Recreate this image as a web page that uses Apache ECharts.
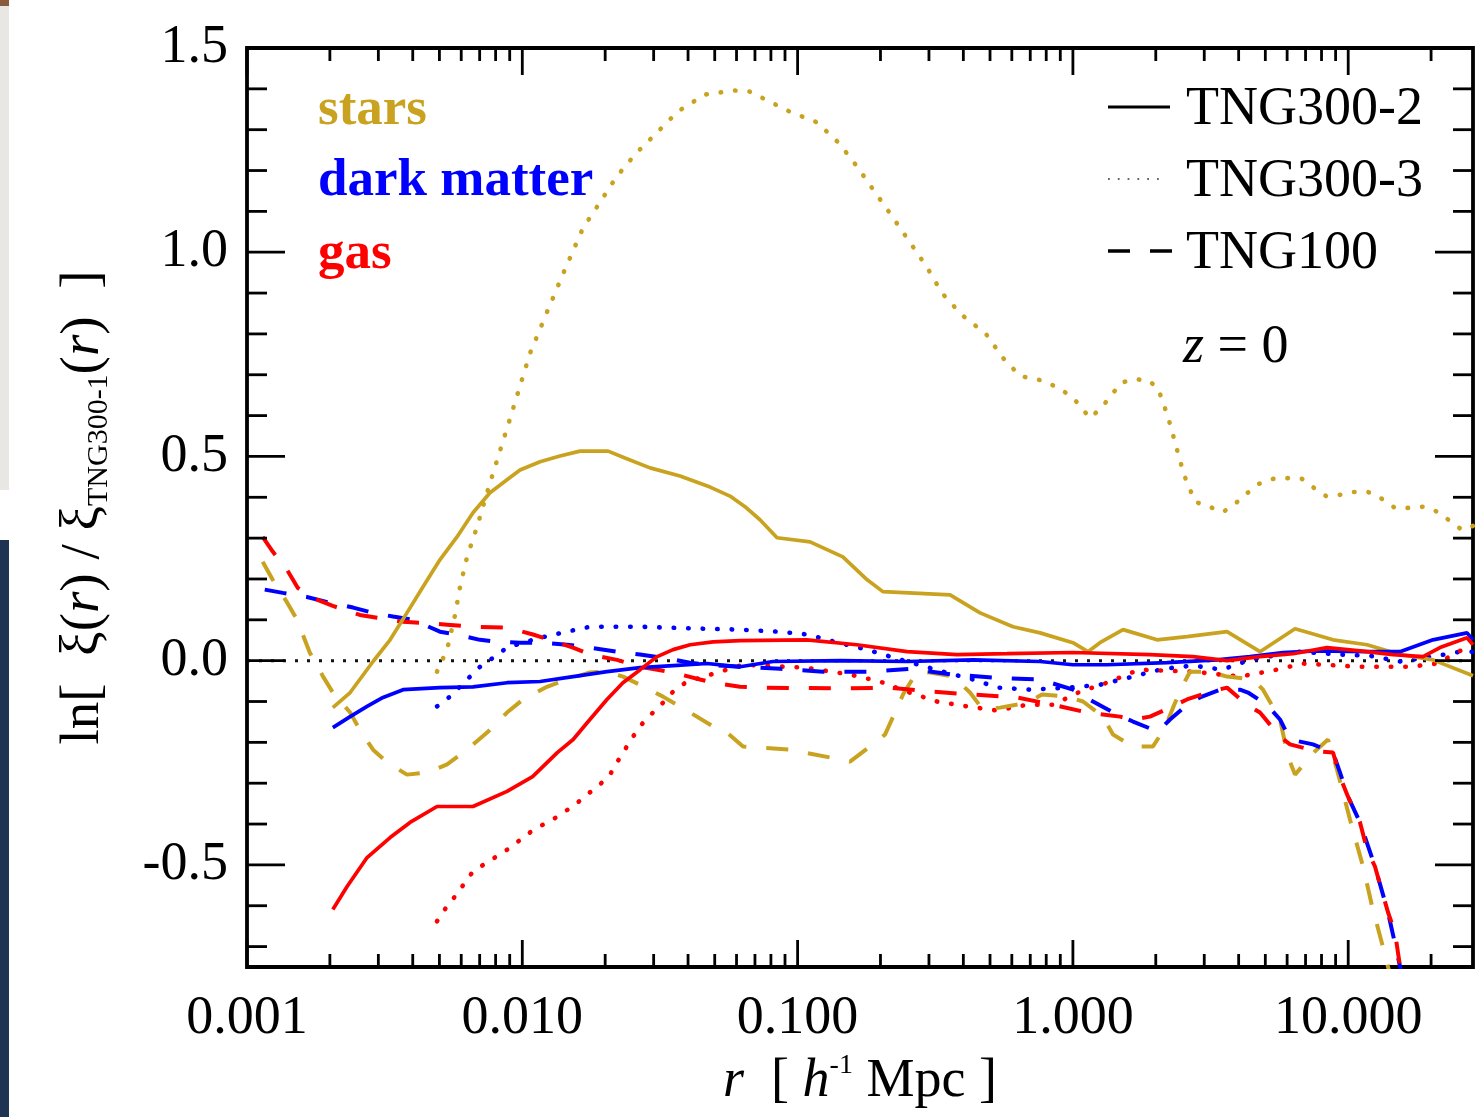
<!DOCTYPE html>
<html>
<head>
<meta charset="utf-8">
<script src="https://cdn.jsdelivr.net/npm/echarts/dist/echarts.min.js"></script>
<style>
html,body{margin:0;padding:0;background:#fff;}
#chart{width:1476px;height:1117px;}
</style>
</head>
<body>
<div id="chart"></div>
<script>
// ---- axis ranges and ticks ----
const X_MIN = 0.001, X_MAX = 28.4, Y_MIN = -0.75, Y_MAX = 1.5;
const xMajorTicks = [0.001, 0.01, 0.1, 1, 10];
const xMinorTicks = [0.002,0.003,0.004,0.005,0.006,0.007,0.008,0.009,
                     0.02,0.03,0.04,0.05,0.06,0.07,0.08,0.09,
                     0.2,0.3,0.4,0.5,0.6,0.7,0.8,0.9,
                     2,3,4,5,6,7,8,9,20];
const yMajorTicks = [-0.5, 0, 0.5, 1.0, 1.5];
const yMinorTicks = [-0.7,-0.6,-0.4,-0.3,-0.2,-0.1,0.1,0.2,0.3,0.4,0.6,0.7,0.8,0.9,1.1,1.2,1.3,1.4];
const zeroLine = [[X_MIN, 0], [X_MAX, 0]];

// ---- data: [r (h^-1 Mpc), ln(xi/xi_TNG300-1)] ----
// TNG300-2 (solid)
const starsTNG300_2 = [[0.00205,-0.115],[0.00237,-0.078],[0.00287,-0.002],[0.00331,0.051],[0.00381,0.117],[0.00436,0.181],[0.00502,0.247],[0.00579,0.303],[0.00662,0.362],[0.00763,0.411],[0.0088,0.443],[0.00981,0.467],[0.0116,0.487],[0.0137,0.501],[0.0162,0.513],[0.0205,0.513],[0.0236,0.496],[0.0291,0.472],[0.0374,0.452],[0.0481,0.425],[0.0568,0.403],[0.0644,0.377],[0.073,0.345],[0.0842,0.301],[0.111,0.291],[0.146,0.254],[0.179,0.198],[0.204,0.169],[0.358,0.161],[0.46,0.117],[0.606,0.083],[0.76,0.068],[1.0,0.044],[1.134,0.022],[1.254,0.044],[1.521,0.076],[2.021,0.051],[2.597,0.059],[3.629,0.071],[4.782,0.022],[6.41,0.078],[8.808,0.051],[11.7,0.039],[15.42,0.015],[20.32,0.002],[28.4,-0.037]];
const darkTNG300_2 = [[0.00205,-0.164],[0.00237,-0.137],[0.00273,-0.112],[0.00312,-0.09],[0.00369,-0.071],[0.00502,-0.066],[0.00662,-0.064],[0.0088,-0.054],[0.0116,-0.051],[0.0153,-0.039],[0.0203,-0.027],[0.0268,-0.017],[0.0353,-0.012],[0.0469,-0.007],[0.0618,-0.015],[0.0814,-0.002],[0.143,0.0],[0.25,-0.002],[0.434,0.002],[0.76,-0.002],[1.0,-0.01],[1.33,-0.01],[2.197,-0.005],[3.337,0.002],[4.398,0.01],[5.799,0.02],[7.703,0.024],[11.7,0.022],[15.42,0.022],[20.32,0.051],[27.02,0.068],[28.4,0.051]];
const gasTNG300_2 = [[0.00205,-0.609],[0.00231,-0.553],[0.00273,-0.482],[0.00331,-0.433],[0.00391,-0.396],[0.0049,-0.357],[0.00662,-0.357],[0.0088,-0.32],[0.0109,-0.284],[0.0134,-0.225],[0.0153,-0.193],[0.0176,-0.144],[0.0203,-0.095],[0.0232,-0.054],[0.0268,-0.022],[0.0309,0.01],[0.0353,0.027],[0.0407,0.039],[0.0493,0.046],[0.0618,0.049],[0.108,0.051],[0.164,0.039],[0.25,0.022],[0.379,0.015],[0.576,0.017],[1.0,0.02],[1.905,0.015],[2.731,0.01],[3.629,0.0],[4.782,0.01],[6.302,0.017],[8.375,0.032],[11.04,0.024],[14.54,0.015],[18.7,0.01],[21.55,0.032],[27.02,0.056],[28.4,0.039]];
// TNG300-3 (dotted)
const starsTNG300_3 = [[0.0049,-0.027],[0.00533,0.027],[0.0057,0.112],[0.00594,0.181],[0.0063,0.254],[0.00685,0.328],[0.00763,0.435],[0.009,0.59],[0.01067,0.753],[0.01229,0.853],[0.01429,0.958],[0.01661,1.059],[0.01915,1.122],[0.02189,1.183],[0.02588,1.242],[0.03085,1.293],[0.03679,1.345],[0.04609,1.386],[0.05875,1.396],[0.06659,1.394],[0.07487,1.377],[0.09307,1.345],[0.1176,1.318],[0.1414,1.267],[0.1643,1.21],[0.1911,1.147],[0.2203,1.088],[0.256,1.024],[0.2951,0.963],[0.3346,0.9],[0.3955,0.846],[0.4834,0.8],[0.5575,0.741],[0.6427,0.697],[0.7597,0.687],[0.8977,0.667],[1.018,0.638],[1.154,0.594],[1.276,0.621],[1.495,0.68],[1.653,0.689],[1.874,0.687],[2.038,0.667],[2.215,0.597],[2.368,0.526],[2.533,0.455],[2.777,0.389],[3.122,0.377],[3.51,0.364],[3.88,0.384],[4.255,0.408],[4.742,0.433],[5.333,0.445],[6.044,0.447],[6.795,0.445],[7.514,0.423],[8.308,0.403],[9.338,0.406],[10.49,0.413],[11.8,0.413],[13.27,0.396],[14.79,0.374],[16.63,0.374],[18.86,0.377],[21.19,0.364],[23.43,0.342],[25.91,0.32],[28.4,0.33]];
const darkTNG300_3 = [[0.0049,-0.112],[0.00546,-0.088],[0.00594,-0.064],[0.00646,-0.039],[0.00702,-0.015],[0.00783,0.007],[0.0088,0.032],[0.01006,0.044],[0.0116,0.056],[0.01453,0.071],[0.01762,0.083],[0.02676,0.083],[0.04688,0.078],[0.06177,0.076],[0.08488,0.071],[0.1091,0.064],[0.1402,0.044],[0.1787,0.027],[0.2297,0.005],[0.3375,-0.027],[0.4336,-0.046],[0.5345,-0.066],[0.6987,-0.071],[0.9678,-0.066],[1.254,-0.059],[1.653,-0.039],[2.125,-0.02],[2.731,-0.012],[3.48,-0.022],[4.398,0.002],[6.516,0.022],[9.338,0.015],[12.0,0.012],[15.42,-0.002],[20.32,0.01],[25.48,0.022],[28.4,0.022]];
const gasTNG300_3 = [[0.0049,-0.638],[0.00533,-0.601],[0.0057,-0.577],[0.00662,-0.516],[0.00745,-0.494],[0.0083,-0.474],[0.00918,-0.455],[0.01006,-0.433],[0.01131,-0.408],[0.0126,-0.394],[0.01405,-0.372],[0.01528,-0.357],[0.01718,-0.328],[0.01915,-0.303],[0.02083,-0.279],[0.02208,-0.249],[0.02524,-0.186],[0.02745,-0.152],[0.02984,-0.127],[0.03244,-0.103],[0.03527,-0.076],[0.03966,-0.051],[0.04421,-0.042],[0.06334,-0.01],[0.1064,-0.017],[0.155,-0.034],[0.1992,-0.051],[0.2497,-0.076],[0.3209,-0.1],[0.4124,-0.112],[0.5302,-0.122],[0.6813,-0.108],[0.8467,-0.108],[1.061,-0.076],[1.33,-0.054],[1.739,-0.022],[2.731,-0.027],[4.046,-0.039],[5.333,-0.024],[6.853,-0.007],[11.04,-0.015],[16.77,-0.015],[21.01,-0.007],[25.48,0.024],[28.4,0.032]];
// TNG100 (dashed)
const starsTNG100 = [[0.00114,0.242],[0.00124,0.198],[0.0014,0.142],[0.00152,0.1],[0.00169,0.02],[0.00189,-0.039],[0.00205,-0.078],[0.00237,-0.127],[0.00257,-0.169],[0.00287,-0.218],[0.00323,-0.249],[0.00381,-0.279],[0.00451,-0.274],[0.00533,-0.254],[0.0063,-0.218],[0.00745,-0.176],[0.0088,-0.127],[0.01006,-0.095],[0.01229,-0.064],[0.01453,-0.046],[0.01762,-0.029],[0.02031,-0.027],[0.02322,-0.039],[0.02676,-0.059],[0.03244,-0.088],[0.04067,-0.127],[0.04928,-0.161],[0.0554,-0.176],[0.06334,-0.21],[0.09384,-0.218],[0.1311,-0.237],[0.155,-0.247],[0.1832,-0.21],[0.2077,-0.181],[0.2258,-0.127],[0.2415,-0.083],[0.2715,-0.027],[0.3026,-0.029],[0.3668,-0.039],[0.4229,-0.078],[0.4715,-0.12],[0.5436,-0.115],[0.6813,-0.103],[0.7722,-0.083],[0.952,-0.088],[1.088,-0.1],[1.286,-0.137],[1.398,-0.181],[1.653,-0.21],[1.954,-0.21],[2.161,-0.164],[2.31,-0.115],[2.491,-0.064],[2.663,-0.027],[3.148,-0.027],[3.629,-0.039],[4.51,-0.046],[4.904,-0.071],[5.653,-0.144],[6.044,-0.235],[6.41,-0.279],[7.574,-0.222],[8.446,-0.193],[9.107,-0.267],[10.15,-0.389],[11.32,-0.504],[12.21,-0.601],[13.38,-0.702],[14.18,-0.768]];
const darkTNG100 = [[0.00116,0.174],[0.00135,0.166],[0.00165,0.156],[0.002,0.142],[0.00243,0.13],[0.00287,0.117],[0.00339,0.108],[0.00401,0.1],[0.00502,0.071],[0.00579,0.064],[0.00702,0.051],[0.00809,0.046],[0.00981,0.044],[0.0116,0.044],[0.01453,0.039],[0.01762,0.032],[0.02208,0.022],[0.02676,0.015],[0.03244,0.007],[0.04067,-0.005],[0.04688,-0.01],[0.06177,-0.015],[0.08632,-0.02],[0.1237,-0.027],[0.1787,-0.027],[0.256,-0.02],[0.3668,-0.034],[0.5302,-0.042],[0.7597,-0.046],[1.001,-0.071],[1.183,-0.1],[1.446,-0.132],[1.653,-0.149],[2.038,-0.174],[2.253,-0.144],[2.597,-0.108],[2.895,-0.09],[3.422,-0.071],[4.046,-0.071],[4.325,-0.078],[5.07,-0.108],[5.653,-0.144],[6.147,-0.193],[7.451,-0.205],[8.808,-0.225],[9.338,-0.274],[9.984,-0.333],[11.04,-0.396],[12.51,-0.504],[13.95,-0.616],[15.42,-0.748],[16.08,-0.792]];
const gasTNG100 = [[0.00114,0.303],[0.00124,0.267],[0.0014,0.222],[0.00153,0.178],[0.00169,0.156],[0.00205,0.134],[0.00257,0.112],[0.00297,0.105],[0.00369,0.095],[0.00425,0.093],[0.00533,0.088],[0.00662,0.083],[0.0088,0.081],[0.01094,0.064],[0.0126,0.051],[0.01528,0.032],[0.01762,0.015],[0.02208,0.002],[0.02676,-0.015],[0.03527,-0.029],[0.04421,-0.046],[0.04928,-0.054],[0.06177,-0.064],[0.07302,-0.066],[0.1426,-0.068],[0.2166,-0.066],[0.3102,-0.076],[0.4336,-0.083],[0.6265,-0.09],[0.8753,-0.11],[1.125,-0.127],[1.483,-0.137],[1.653,-0.144],[1.905,-0.137],[2.253,-0.115],[2.597,-0.095],[3.148,-0.076],[3.629,-0.066],[4.29,-0.108],[4.782,-0.127],[5.653,-0.186],[6.147,-0.205],[7.703,-0.222],[8.808,-0.225],[9.338,-0.284],[9.984,-0.333],[11.04,-0.396],[11.7,-0.462],[12.51,-0.504],[13.27,-0.565],[13.95,-0.616],[14.79,-0.665],[15.42,-0.748],[16.08,-0.792]];

// ---- styles ----
const GOLD = '#C9A21F', BLUE = '#0000FF', RED = '#FF0000';
const FONT = '"Liberation Serif", "Times New Roman", serif';
const STYLES = {
  solid:  {type: 'solid', width: 3.7},
  dotted: {type: [0.5, 14], width: 4.6, cap: 'round'},
  dashed: {type: [22, 20], width: 4}
};

function lineSeries(name, data, color, kind) {
  return {
    name: name, type: 'line', data: data, showSymbol: false, symbol: 'none',
    clip: true, silent: true, animation: false, z: 3,
    lineStyle: Object.assign({color: color}, STYLES[kind])
  };
}

function xTickSeries(values, len) {
  return {
    type: 'custom', silent: true, animation: false, clip: false, z: 6,
    data: values.map(v => [v, Y_MIN]),
    encode: {x: 0, y: 1},
    renderItem: function (params, api) {
      const v = api.value(0);
      const b = api.coord([v, Y_MIN]);
      const t = api.coord([v, Y_MAX]);
      const st = {stroke: '#000', lineWidth: 2.8};
      return {type: 'group', children: [
        {type: 'line', shape: {x1: b[0], y1: b[1], x2: b[0], y2: b[1] - len}, style: st},
        {type: 'line', shape: {x1: t[0], y1: t[1], x2: t[0], y2: t[1] + len}, style: st}
      ]};
    }
  };
}
function yTickSeries(values, len) {
  return {
    type: 'custom', silent: true, animation: false, clip: false, z: 6,
    data: values.map(v => [X_MIN, v]),
    encode: {x: 0, y: 1},
    renderItem: function (params, api) {
      const v = api.value(1);
      const l = api.coord([X_MIN, v]);
      const r = api.coord([X_MAX, v]);
      const st = {stroke: '#000', lineWidth: 2.8};
      return {type: 'group', children: [
        {type: 'line', shape: {x1: l[0], y1: l[1], x2: l[0] + len, y2: l[1]}, style: st},
        {type: 'line', shape: {x1: r[0], y1: r[1], x2: r[0] - len, y2: r[1]}, style: st}
      ]};
    }
  };
}

const chart = echarts.init(document.getElementById('chart'), null, {renderer: 'canvas'});
const txt = {fontFamily: FONT, color: '#000'};

chart.setOption({
  animation: false,
  backgroundColor: '#ffffff',
  grid: {left: 247, top: 48, width: 1226, height: 919, show: true, borderColor: '#000', borderWidth: 3.8, backgroundColor: 'transparent'},
  xAxis: {
    type: 'log', logBase: 10, min: X_MIN, max: X_MAX,
    axisLine: {show: false}, axisTick: {show: false}, splitLine: {show: false}, minorTick: {show: false},
    axisLabel: Object.assign({fontSize: 54, margin: 25,
      formatter: v => (v > 11 ? '' : Number(v).toFixed(3))}, txt),
    name: '{i|r}{n|  [ }{i|h}{s|-1}{n| Mpc ]}',
    nameLocation: 'middle', nameGap: 85,
    nameTextStyle: {
      rich: {
        n: {fontFamily: FONT, fontSize: 54, lineHeight: 60, color: '#000'},
        i: {fontFamily: FONT, fontSize: 54, lineHeight: 60, fontStyle: 'italic', color: '#000'},
        s: {fontFamily: FONT, fontSize: 28, lineHeight: 20, verticalAlign: 'top', color: '#000'}
      }
    }
  },
  yAxis: {
    type: 'value', min: Y_MIN, max: Y_MAX,
    axisLine: {show: false}, axisTick: {show: false}, splitLine: {show: false},
    axisLabel: Object.assign({fontSize: 54, margin: 19,
      formatter: v => (v < -0.6 ? '' : Number(v).toFixed(1))}, txt),
    name: '{n|ln[  ξ(}{i|r}{n|) / ξ}{s|TNG300-1}{n|(}{i|r}{n|)  ]}',
    nameLocation: 'middle', nameRotate: 90, nameGap: 133,
    nameTextStyle: {
      rich: {
        n: {fontFamily: FONT, fontSize: 55, lineHeight: 60, color: '#000'},
        i: {fontFamily: FONT, fontSize: 55, lineHeight: 60, fontStyle: 'italic', color: '#000'},
        s: {fontFamily: FONT, fontSize: 30, lineHeight: 14, verticalAlign: 'bottom', color: '#000'}
      }
    }
  },
  graphic: [
    {type: 'rect', shape: {x: 0, y: 0, width: 9, height: 490}, style: {fill: '#e9e7e3'}, silent: true},
    {type: 'rect', shape: {x: 0, y: 0, width: 9, height: 6}, style: {fill: '#8a5c3c'}, silent: true},
    {type: 'rect', shape: {x: 0, y: 540, width: 9, height: 577}, style: {fill: '#1f3452'}, silent: true},
    {type: 'text', x: 318, y: 110, style: {text: 'stars', font: 'bold 53px ' + FONT, fill: GOLD, align: 'left', verticalAlign: 'middle'}},
    {type: 'text', x: 318, y: 181, style: {text: 'dark matter', font: 'bold 53px ' + FONT, fill: BLUE, align: 'left', verticalAlign: 'middle'}},
    {type: 'text', x: 318, y: 254, style: {text: 'gas', font: 'bold 53px ' + FONT, fill: RED, align: 'left', verticalAlign: 'middle'}},
    {type: 'line', shape: {x1: 1108, y1: 107, x2: 1170, y2: 107}, style: {stroke: '#000', lineWidth: 3.2}},
    {type: 'line', shape: {x1: 1108, y1: 179, x2: 1162, y2: 179}, style: {stroke: '#666', lineWidth: 1.8, lineDash: [1.8, 8]}},
    {type: 'line', shape: {x1: 1108, y1: 251, x2: 1172, y2: 251}, style: {stroke: '#000', lineWidth: 3.6, lineDash: [22, 20]}},
    {type: 'text', x: 1186, y: 110, style: {text: 'TNG300-2', font: '54px ' + FONT, fill: '#000', align: 'left', verticalAlign: 'middle'}},
    {type: 'text', x: 1186, y: 182, style: {text: 'TNG300-3', font: '54px ' + FONT, fill: '#000', align: 'left', verticalAlign: 'middle'}},
    {type: 'text', x: 1186, y: 254, style: {text: 'TNG100', font: '54px ' + FONT, fill: '#000', align: 'left', verticalAlign: 'middle'}},
    {type: 'text', x: 1183, y: 348, style: {text: '{i|z} = 0', font: '54px ' + FONT, fill: '#000', align: 'left', verticalAlign: 'middle',
      rich: {i: {font: 'italic 54px ' + FONT, fill: '#000'}}}}
  ],
  series: [
    {type: 'line', data: zeroLine, showSymbol: false, symbol: 'none', silent: true, z: 2,
     lineStyle: {color: '#111', width: 3, type: [3, 9]}},
    lineSeries('stars TNG300-3', starsTNG300_3, GOLD, 'dotted'),
    lineSeries('dark matter TNG300-3', darkTNG300_3, BLUE, 'dotted'),
    lineSeries('gas TNG300-3', gasTNG300_3, RED, 'dotted'),
    lineSeries('stars TNG100', starsTNG100, GOLD, 'dashed'),
    lineSeries('dark matter TNG100', darkTNG100, BLUE, 'dashed'),
    lineSeries('gas TNG100', gasTNG100, RED, 'dashed'),
    lineSeries('stars TNG300-2', starsTNG300_2, GOLD, 'solid'),
    lineSeries('dark matter TNG300-2', darkTNG300_2, BLUE, 'solid'),
    lineSeries('gas TNG300-2', gasTNG300_2, RED, 'solid'),
    xTickSeries(xMajorTicks, 27),
    xTickSeries(xMinorTicks, 13),
    yTickSeries(yMajorTicks, 38),
    yTickSeries(yMinorTicks, 20)
  ]
});
</script>
</body>
</html>
